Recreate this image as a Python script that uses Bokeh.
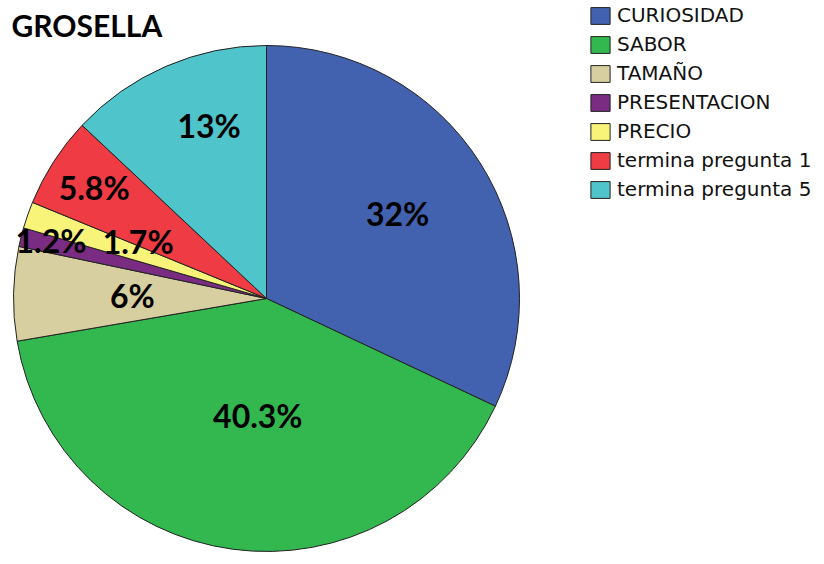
import numpy as np
from bokeh.plotting import figure
from bokeh.models import ColumnDataSource, Range1d
from bokeh.core.properties import value
from bokeh.embed import file_html
from bokeh.resources import INLINE

categories = ["CURIOSIDAD", "SABOR", "TAMAÑO", "PRESENTACION", "PRECIO",
              "termina pregunta 1", "termina pregunta 5"]
percents = [32.0, 40.3, 6.0, 1.2, 1.7, 5.8, 13.0]
labels = ["32%", "40.3%", "6%", "1.2%", "1.7%", "5.8%", "13%"]
colors = ["#4261AE", "#32B84F", "#D7CF9F", "#7A2C82", "#F8F47A", "#EF3B44", "#4FC4CA"]
label_radius = [0.60, 0.46, 0.53, 0.87, 0.55, 0.81, 0.72]
label_nudge_x = [3, 7, 0, -2, 3, 0, 15]
label_nudge_y = [4, -2, 0, 5, 11, 0, 6]

W, H = 816, 556
cx, cy, R = 266, 258, 253

frac = np.array(percents) / sum(percents)
cum = np.concatenate([[0], np.cumsum(frac)])
start = np.pi / 2 - 2 * np.pi * cum[:-1]
end = np.pi / 2 - 2 * np.pi * cum[1:]
mid = (start + end) / 2
lr = np.array(label_radius) * R

src = ColumnDataSource(dict(cat=categories, start=start, end=end, color=colors,
                            lx=cx + lr * np.cos(mid) + np.array(label_nudge_x),
                            ly=cy + lr * np.sin(mid) + np.array(label_nudge_y),
                            lab=labels))

p = figure(width=W, height=H, x_range=Range1d(0, W), y_range=Range1d(0, H),
           output_backend="svg", toolbar_location=None, min_border=0)
p.axis.visible = False
p.grid.visible = False
p.outline_line_color = None

p.wedge(x=cx, y=cy, radius=R, start_angle="start", end_angle="end",
        direction="clock", fill_color="color", line_color="#222222",
        line_width=1, legend_field="cat", source=src)

p.text(x="lx", y="ly", text="lab", source=src, text_align="center",
       text_baseline="middle", text_font=value("Lato"), text_font_style="bold",
       text_font_size="32px", text_color="#000000")

p.text(x=[11], y=[H - 24], text=["GROSELLA"], text_align="left",
       text_baseline="alphabetic", text_font=value("Lato"),
       text_font_style="bold", text_font_size="30px", text_color="#000000")

lg = p.legend[0]
lg.glyph_width = 24
lg.glyph_height = 21
lg.label_height = 21
lg.spacing = 5
lg.padding = 0
lg.margin = 0
lg.label_standoff = 5
lg.label_text_font = "DejaVu Sans"
lg.label_text_font_size = "20px"
lg.label_text_color = "#111111"
lg.background_fill_alpha = 0
lg.border_line_alpha = 0
lg.location = (588, H - 10 - (7 * 23 + 6 * 5))

open("out.html", "w").write(file_html(p, INLINE))
